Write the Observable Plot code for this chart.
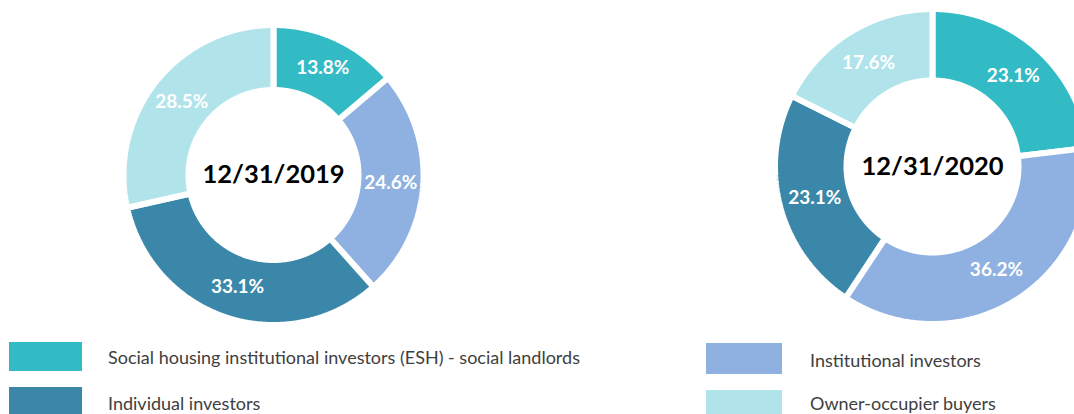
<!DOCTYPE html>
<html>
<head>
<meta charset="utf-8">
<script src="https://cdn.jsdelivr.net/npm/d3@7"></script>
<script src="https://cdn.jsdelivr.net/npm/@observablehq/plot@0.6"></script>
<style>
  html, body { margin: 0; padding: 0; background: #fff; width: 1074px; height: 414px; overflow: hidden; }
  #wrap { position: relative; width: 1074px; height: 414px; }
  #legend { position: absolute; left: 0; top: 336px; width: 1074px; height: 78px; font-family: Lato, "Open Sans", sans-serif; font-size: 18px; color: #404040; }
  .item { position: absolute; display: flex; align-items: center; white-space: nowrap; line-height: 20px; }
  .sw { display: inline-block; }
</style>
</head>
<body>
<div id="wrap">
  <div id="chart"></div>
  <div id="legend"></div>
</div>
<script>
// ---- data ----
const categories = [
  "Social housing institutional investors (ESH) - social landlords",
  "Institutional investors",
  "Individual investors",
  "Owner-occupier buyers"
];
const colors = ["#33bbc5", "#8eb1e1", "#3a87aa", "#b1e4ea"];
const dates = ["12/31/2019", "12/31/2020"];
const values2019 = [13.8, 24.6, 33.1, 28.5];
const values2020 = [23.1, 36.2, 23.1, 17.6];
const valueLabels2019 = ["13.8%", "24.6%", "33.1%", "28.5%"];
const valueLabels2020 = ["23.1%", "36.2%", "23.1%", "17.6%"];

// ---- layout ----
const W = 1074, H = 336;
const gap = 6;
const donuts = [
  {date: dates[0], values: values2019, labels: valueLabels2019, cx: 273, cy: 174.5, rOuter: 147, rInner: 88},
  {date: dates[1], values: values2020, labels: valueLabels2020, cx: 932, cy: 166, rOuter: 154.5, rInner: 89}
];

const polyPts = [];
const labelPts = [];
donuts.forEach((d, di) => {
  const total = d3.sum(d.values);
  let cum = 0;
  d.values.forEach((v, i) => {
    const a0 = cum / total * 2 * Math.PI;
    cum += v;
    const a1 = cum / total * 2 * Math.PI;
    const id = di + "-" + i;
    const ro = d.rOuter + gap / 2, ri = d.rInner - gap / 2;
    const n = Math.max(8, Math.ceil((a1 - a0) / (Math.PI / 360)));
    for (let k = 0; k <= n; k++) {
      const a = a0 + (a1 - a0) * k / n;
      polyPts.push({id, cat: categories[i], x: d.cx + ro * Math.sin(a), y: d.cy - ro * Math.cos(a)});
    }
    for (let k = n; k >= 0; k--) {
      const a = a0 + (a1 - a0) * k / n;
      polyPts.push({id, cat: categories[i], x: d.cx + ri * Math.sin(a), y: d.cy - ri * Math.cos(a)});
    }
    const am = (a0 + a1) / 2, rm = (d.rOuter + d.rInner) / 2;
    labelPts.push({x: d.cx + rm * Math.sin(am), y: d.cy - rm * Math.cos(am), text: d.labels[i]});
  });
});

const chart = Plot.plot({
  width: W,
  height: H,
  margin: 0,
  style: {background: "#fff", overflow: "hidden"},
  x: {domain: [0, W], range: [0, W], axis: null},
  y: {domain: [0, H], range: [0, H], axis: null},
  color: {domain: categories, range: colors},
  marks: [
    Plot.line(polyPts, {x: "x", y: "y", z: "id", fill: "cat", stroke: "white", strokeWidth: gap, strokeLinejoin: "miter", curve: "linear-closed"}),
    Plot.text(labelPts, {x: "x", y: "y", text: "text", fill: "white", fontSize: 19, fontWeight: "bold", fontFamily: "Lato, sans-serif"}),
    Plot.text(donuts, {x: "cx", y: "cy", text: "date", fill: "black", fontSize: 25.5, fontWeight: "bold", fontFamily: "Lato, sans-serif"})
  ]
});
document.getElementById("chart").appendChild(chart);

// ---- legend (HTML, below the SVG) ----
const legendPos = [
  {left: 9, top: 6, sw: [73, 29], textLeft: 108, textTop: 11},
  {left: 706, top: 7, sw: [76, 31], textLeft: 810, textTop: 14},
  {left: 9, top: 51, sw: [73, 29], textLeft: 108, textTop: 57},
  {left: 706, top: 54, sw: [76, 31], textLeft: 810, textTop: 57}
];
const legend = document.getElementById("legend");
categories.forEach((c, i) => {
  const p = legendPos[i];
  const sw = document.createElement("div");
  sw.className = "sw";
  sw.style.cssText = `position:absolute;left:${p.left}px;top:${p.top}px;width:${p.sw[0]}px;height:${p.sw[1]}px;background:${colors[i]}`;
  legend.appendChild(sw);
  const t = document.createElement("div");
  t.className = "item";
  t.style.cssText = `left:${p.textLeft}px;top:${p.textTop}px;height:20px;`;
  t.textContent = c;
  legend.appendChild(t);
});
</script>
</body>
</html>
